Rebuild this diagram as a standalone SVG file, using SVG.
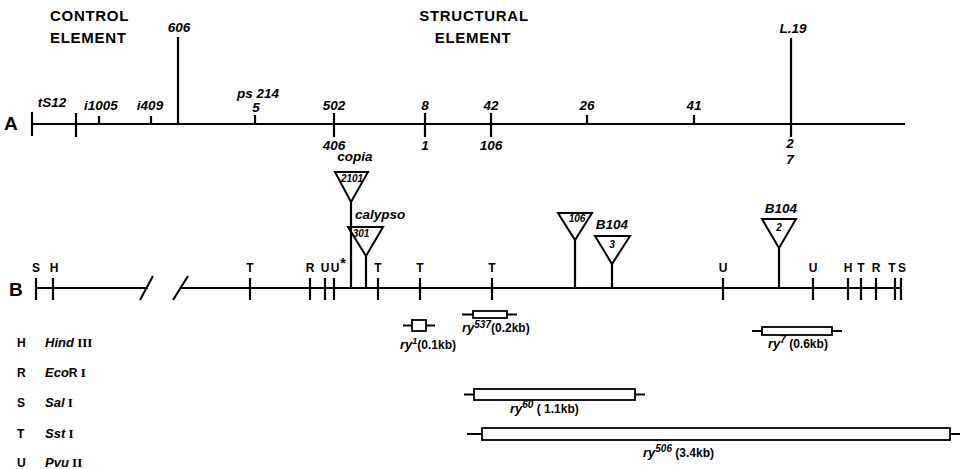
<svg xmlns="http://www.w3.org/2000/svg" width="960" height="469" viewBox="0 0 960 469">
<style>
.ln{stroke:#000;stroke-width:2;fill:none}
.tk{stroke:#000;stroke-width:2.2;fill:none}
.tri{stroke:#000;stroke-width:2;fill:#fff;stroke-linejoin:miter}
.box{stroke:#000;stroke-width:1.8;fill:#fff}
.hd{font-family:"Liberation Sans",Arial,sans-serif;font-weight:bold;font-size:15px;letter-spacing:0.7px}
.num{font-family:"Liberation Sans",Arial,sans-serif;font-style:italic;font-weight:bold;font-size:13.5px;text-anchor:middle}
.lt{font-family:"Liberation Sans",Arial,sans-serif;font-weight:bold;font-size:12px;text-anchor:middle}
.big{font-family:"Liberation Sans",Arial,sans-serif;font-weight:bold;font-size:19px}
.tn{font-family:"Liberation Sans",Arial,sans-serif;font-style:italic;font-weight:bold;font-size:10px;text-anchor:middle}
.it{font-family:"Liberation Sans",Arial,sans-serif;font-style:italic;font-weight:bold;font-size:13px}
.kb{font-family:"Liberation Sans",Arial,sans-serif;font-weight:bold;font-size:12px}
.rom{font-family:"Liberation Serif","Times New Roman",serif;font-weight:bold;font-size:13px}
</style>
<g id="headings">
<text class="hd" x="50" y="21">CONTROL</text>
<text class="hd" x="50" y="43">ELEMENT</text>
<text class="hd" x="474" y="21" text-anchor="middle">STRUCTURAL</text>
<text class="hd" x="473" y="43" text-anchor="middle">ELEMENT</text>
</g>
<g id="mapA">
<text class="big" x="4" y="130">A</text>
<line class="ln" x1="32" y1="124" x2="905" y2="124"/>
<line class="tk" x1="32" y1="112" x2="32" y2="136"/>
<line class="tk" x1="76" y1="113" x2="76" y2="137"/>
<line class="tk" x1="99" y1="116" x2="99" y2="124"/>
<line class="tk" x1="151" y1="116" x2="151" y2="124"/>
<line class="tk" x1="178" y1="37" x2="178" y2="124"/>
<line class="tk" x1="255" y1="115" x2="255" y2="124"/>
<line class="tk" x1="334" y1="113" x2="334" y2="137"/>
<line class="tk" x1="425" y1="113" x2="425" y2="137"/>
<line class="tk" x1="491" y1="113" x2="491" y2="137"/>
<line class="tk" x1="587" y1="115" x2="587" y2="124"/>
<line class="tk" x1="694" y1="115" x2="694" y2="124"/>
<line class="tk" x1="791" y1="38" x2="791" y2="137"/>
<text class="num" x="52" y="107">tS12</text>
<text class="num" x="101" y="110">i1005</text>
<text class="num" x="150" y="110">i409</text>
<text class="num" x="179" y="32">606</text>
<text class="num" x="258" y="98">ps 214</text>
<text class="num" x="256" y="112">5</text>
<text class="num" x="334" y="110">502</text>
<text class="num" x="425" y="110">8</text>
<text class="num" x="491" y="110">42</text>
<text class="num" x="587" y="110">26</text>
<text class="num" x="694" y="110">41</text>
<text class="num" x="793" y="33">L.19</text>
<text class="num" x="334" y="150">406</text>
<text class="num" x="425" y="150">1</text>
<text class="num" x="491" y="150">106</text>
<text class="num" x="790" y="148">2</text>
<text class="num" x="790" y="164">7</text>
</g>
<g id="mapB">
<text class="big" x="9" y="296">B</text>
<line class="ln" x1="36" y1="288" x2="148" y2="288"/>
<line class="ln" x1="140" y1="300" x2="153" y2="276"/>
<line class="ln" x1="173" y1="300" x2="188" y2="276"/>
<line class="ln" x1="180" y1="288" x2="902" y2="288"/>
<g class="tk">
<line x1="36" y1="278" x2="36" y2="300"/>
<line x1="53" y1="278" x2="53" y2="300"/>
<line x1="250" y1="278" x2="250" y2="300"/>
<line x1="310" y1="278" x2="310" y2="300"/>
<line x1="325" y1="278" x2="325" y2="300"/>
<line x1="334" y1="278" x2="334" y2="300"/>
<line x1="378" y1="278" x2="378" y2="300"/>
<line x1="420" y1="278" x2="420" y2="300"/>
<line x1="492" y1="278" x2="492" y2="300"/>
<line x1="723" y1="278" x2="723" y2="300"/>
<line x1="813" y1="278" x2="813" y2="300"/>
<line x1="848" y1="278" x2="848" y2="300"/>
<line x1="861" y1="278" x2="861" y2="300"/>
<line x1="876" y1="278" x2="876" y2="300"/>
<line x1="895" y1="278" x2="895" y2="300"/>
<line x1="901" y1="278" x2="901" y2="300"/>
</g>
<text class="lt" x="36" y="272">S</text>
<text class="lt" x="54" y="272">H</text>
<text class="lt" x="250" y="272">T</text>
<text class="lt" x="310" y="272">R</text>
<text class="lt" x="325" y="272">U</text>
<text class="lt" x="335" y="272">U</text>
<text class="lt" x="343" y="268" style="font-size:14px">*</text>
<text class="lt" x="378" y="272">T</text>
<text class="lt" x="420" y="272">T</text>
<text class="lt" x="492" y="272">T</text>
<text class="lt" x="723" y="272">U</text>
<text class="lt" x="813" y="272">U</text>
<text class="lt" x="848" y="272">H</text>
<text class="lt" x="861" y="272">T</text>
<text class="lt" x="876" y="272">R</text>
<text class="lt" x="892" y="272">T</text>
<text class="lt" x="902" y="272">S</text>
</g>
<g id="insert-calypso">
<polygon class="tri" points="348,227 383,227 366,256"/>
<line class="tk" x1="366" y1="256" x2="366" y2="288"/>
<text class="tn" x="361" y="237">301</text>
<text class="num" x="355" y="219" style="text-anchor:start">calypso</text>
</g>
<g id="insert-copia">
<polygon class="tri" points="335,172 368,172 351,202"/>
<line class="tk" x1="351" y1="202" x2="351" y2="288"/>
<text class="tn" x="352" y="182">2101</text>
<text class="num" x="355" y="161">copia</text>
</g>
<g id="insert-106">
<polygon class="tri" points="558,213 592,213 575,240"/>
<line class="tk" x1="575" y1="240" x2="575" y2="288"/>
<text class="tn" x="577" y="222">106</text>
</g>
<g id="insert-B104-3">
<polygon class="tri" points="595,236 630,236 612,264"/>
<line class="tk" x1="612" y1="264" x2="612" y2="288"/>
<text class="tn" x="612" y="248">3</text>
<text class="num" x="612" y="229">B104</text>
</g>
<g id="insert-B104-2">
<polygon class="tri" points="762,219 796,219 779,248"/>
<line class="tk" x1="779" y1="248" x2="779" y2="288"/>
<text class="tn" x="779" y="231">2</text>
<text class="num" x="781" y="213">B104</text>
</g>
<g id="clone-ry1">
<line class="ln" x1="403" y1="325.5" x2="435" y2="325.5"/>
<rect class="box" x="412" y="320" width="14" height="11"/>
<text x="400" y="349"><tspan class="it">ry</tspan><tspan class="it" style="font-size:9px" dy="-5">1</tspan><tspan class="kb" dy="5">(0.1kb)</tspan></text>
</g>
<g id="clone-ry537">
<line class="ln" x1="462" y1="314.5" x2="517" y2="314.5"/>
<rect class="box" x="473" y="311" width="34" height="7"/>
<text x="462" y="332"><tspan class="it">ry</tspan><tspan class="it" style="font-size:10px" dy="-4">537</tspan><tspan class="kb" dy="4">(0.2kb)</tspan></text>
</g>
<g id="clone-ry7">
<line class="ln" x1="752" y1="331" x2="842" y2="331"/>
<rect class="box" x="762" y="327" width="70" height="8"/>
<text x="768" y="348"><tspan class="it">ry</tspan><tspan class="it" style="font-size:10px" dy="-5">7</tspan><tspan class="kb" dy="5"> (0.6kb)</tspan></text>
</g>
<g id="clone-ry60">
<line class="ln" x1="464" y1="394.5" x2="645" y2="394.5"/>
<rect class="box" x="474" y="389" width="161" height="11"/>
<text x="510" y="413"><tspan class="it">ry</tspan><tspan class="it" style="font-size:10px" dy="-5">60</tspan><tspan class="kb" dy="5"> ( 1.1kb)</tspan></text>
</g>
<g id="clone-ry506">
<line class="ln" x1="467" y1="434" x2="960" y2="434"/>
<rect class="box" x="482" y="428" width="468" height="12"/>
<text x="643" y="457"><tspan class="it">ry</tspan><tspan class="it" style="font-size:10px" dy="-5">506</tspan><tspan class="kb" dy="5"> (3.4kb)</tspan></text>
</g>
<g id="legend">
<text class="kb" x="17" y="347">H</text>
<text x="45" y="347"><tspan class="it">Hind</tspan><tspan class="rom"> III</tspan></text>
<text class="kb" x="17" y="377">R</text>
<text x="45" y="377"><tspan class="it">Eco</tspan><tspan class="kb">R</tspan><tspan class="rom"> I</tspan></text>
<text class="kb" x="17" y="407">S</text>
<text x="45" y="407"><tspan class="it">Sal</tspan><tspan class="rom"> I</tspan></text>
<text class="kb" x="17" y="438">T</text>
<text x="45" y="438"><tspan class="it">Sst</tspan><tspan class="rom"> I</tspan></text>
<text class="kb" x="17" y="467">U</text>
<text x="45" y="467"><tspan class="it">Pvu</tspan><tspan class="rom"> II</tspan></text>
</g>
</svg>
